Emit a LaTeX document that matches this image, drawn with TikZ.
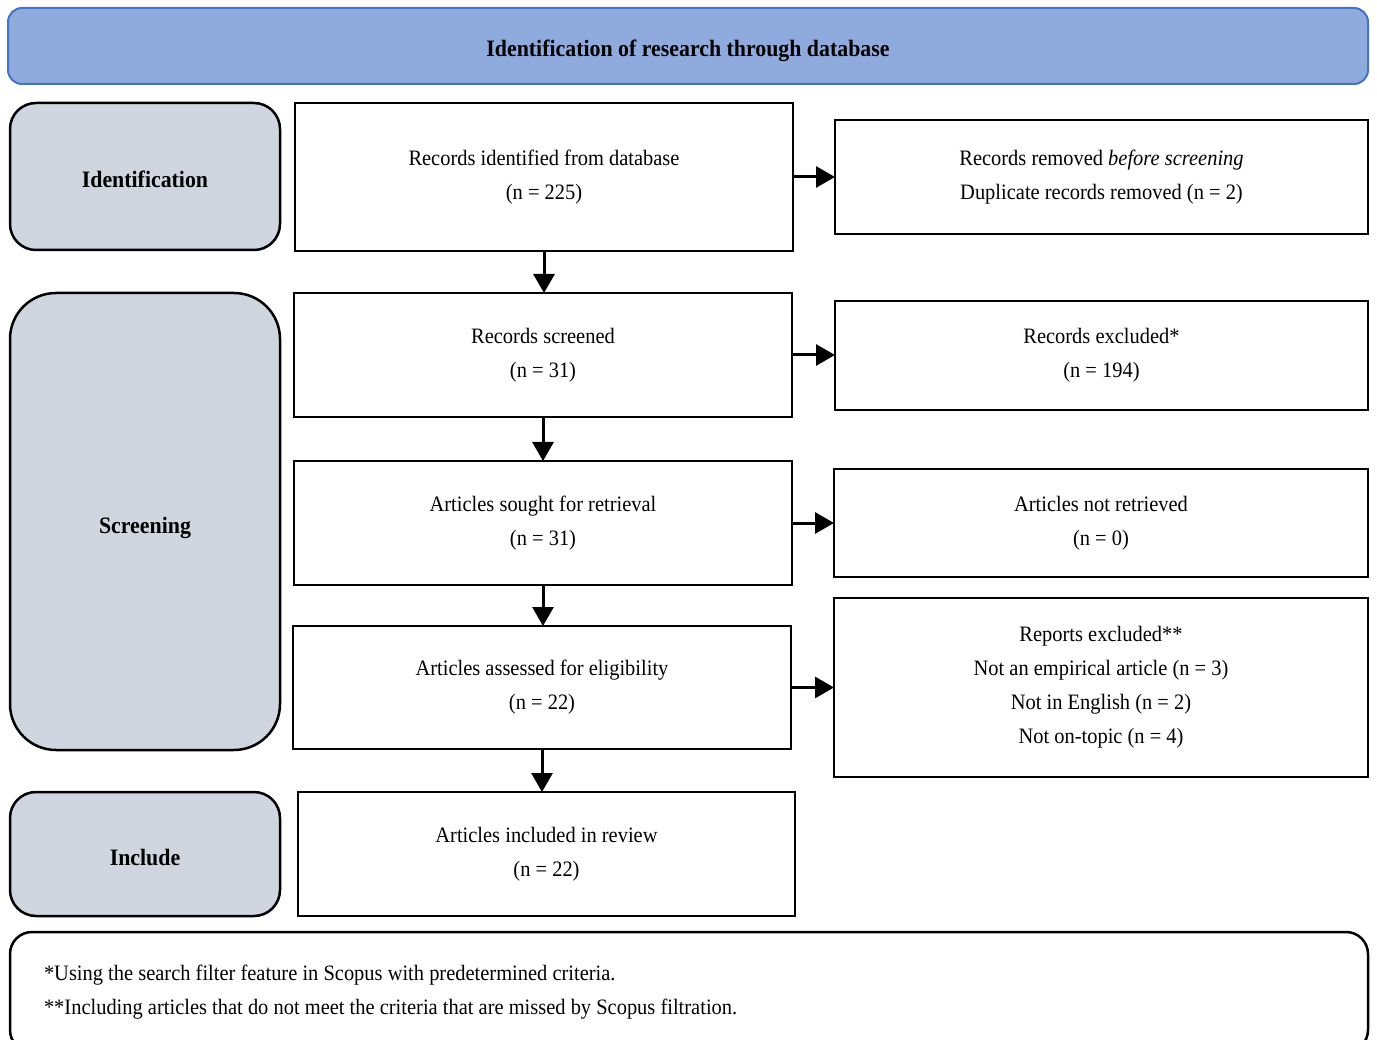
\documentclass[tikz,border=0pt]{standalone}
\usepackage{fontspec}
\setmainfont[FakeStretch=0.93]{Liberation Serif}
\usetikzlibrary{arrows.meta}

\definecolor{headfill}{HTML}{8FAADC}
\definecolor{headline}{HTML}{4472C4}
\definecolor{phasefill}{HTML}{CFD6E0}

\begin{document}
\begin{tikzpicture}
[x=1pt,y=-1pt,%
  every node/.style={draw,line width=2.5pt,inner sep=0pt,outer sep=0pt,align=center,%
    font=\fontsize{22}{34}\selectfont},%
  phase/.style={fill=phasefill,minimum width=270pt,text height=23pt,text depth=0pt,%
    font=\fontsize{23.5}{34}\selectfont\bfseries},%
  stepbox/.style={rectangle,fill=white,minimum width=498pt,minimum height=124pt},%
  sidebox/.style={rectangle,fill=white,minimum width=534pt},%
  arr/.style={-{Triangle[length=19pt,width=21pt]},line width=3pt}]
\useasboundingbox (0,0) rectangle (1377,1040);
\clip (0,0) rectangle (1377,1040);
\node[fill=headfill,draw=headline,line width=2pt,rounded corners=14pt,%
  minimum width=1360pt,minimum height=76pt,text height=22pt,text depth=0pt,%
  font=\fontsize{23.5}{34}\selectfont\bfseries]
  (head) at (688,46) {Identification of research through database};
%% phases
\node[phase,rounded corners=26pt,minimum height=147pt] (ident) at (145,176.5) {Identification};
\node[phase,rounded corners=46pt,minimum height=457pt] (screen) at (145,521.5) {Screening};
\node[phase,rounded corners=26pt,minimum height=124pt] (incl) at (145,854) {Include};
%% main column
\node[stepbox,minimum height=148pt] (rec) at (544,177) {Records identified from database\\(n = 225)};
\node[stepbox] (scr) at (543,355) {Records screened\\(n = 31)};
\node[stepbox] (ret) at (543,523) {Articles sought for retrieval\\(n = 31)};
\node[stepbox,minimum height=123pt] (ass) at (542,687.5) {Articles assessed for eligibility\\(n = 22)};
\node[stepbox,minimum width=497pt] (inc) at (546.5,854) {Articles included in review\\(n = 22)};
%% side column
\node[sidebox,minimum width=533pt,minimum height=114pt] (rem) at (1101.5,177)
  {Records removed \textit{before screening}\\Duplicate records removed (n = 2)};
\node[sidebox,minimum width=533pt,minimum height=109pt] (exc) at (1101.5,355.5)
  {Records excluded*\\(n = 194)};
\node[sidebox,minimum height=108pt] (nret) at (1101,523) {Articles not retrieved\\(n = 0)};
\node[sidebox,minimum height=179pt] (rep) at (1101,687.5)
  {Reports excluded**\\Not an empirical article (n = 3)\\Not in English (n = 2)\\Not on-topic (n = 4)};
%% note
\node[rounded corners=22pt,minimum width=1358pt,minimum height=120pt,%
  text width=1290pt,align=flush left] (note) at (689,992)
  {*Using the search filter feature in Scopus with predetermined criteria.\\{}%
   **Including articles that do not meet the criteria that are missed by Scopus filtration.};
\path[arr]
\foreach \startNode/\endNode in {rec/scr, scr/ret, ret/ass, ass/inc}
{
  (\startNode.south) edge (\startNode.south |- \endNode.north)
};
\path[arr]
\foreach \startNode/\endNode in {rec/rem, scr/exc, ret/nret, ass/rep}
{
  (\startNode.east) edge (\startNode.east -| \endNode.west)
};
\end{tikzpicture}
\end{document}
